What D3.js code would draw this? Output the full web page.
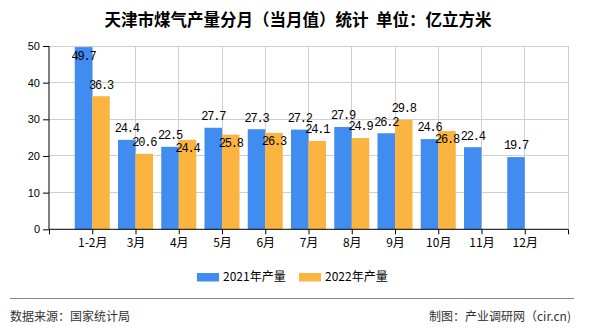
<!DOCTYPE html>
<html><head><meta charset="utf-8">
<script src="https://cdn.jsdelivr.net/npm/d3@7"></script>
<style>
html,body{margin:0;padding:0;background:#fff;}
svg{display:block;}
</style></head>
<body>
<svg id="chart" width="590" height="330"></svg>
<script>
const categories = ["1-2月","3月","4月","5月","6月","7月","8月","9月","10月","11月","12月"];
const values2021 = [49.7,24.4,22.5,27.7,27.3,27.2,27.9,26.2,24.6,22.4,19.7];
const values2022 = [36.3,20.6,24.4,25.8,26.3,24.1,24.9,29.8,26.8,null,null];
const seriesNames = ["2021年产量","2022年产量"];
const yTicks = [0,10,20,30,40,50];
const titleText = "天津市煤气产量分月（当月值）统计  单位：亿立方米";
const sourceText = "数据来源：国家统计局";
const creditText = "制图：产业调研网（cir.cn)";

(function(){
const colors = ["#418CF0","#FCB441"];
const svg = d3.select("#chart");
const pL = 49, pR = 568, pT = 46, pB = 229.3;
const cjk = "'Noto Sans CJK SC','Liberation Sans',sans-serif";
const sans = "'Liberation Sans',Arial,sans-serif";

const x = d3.scaleLinear().domain([0, categories.length + 1]).range([pL, pR]);
const y = d3.scaleLinear().domain([0, 50]).range([pB, pT]);
const bw = 17.5;

// title
svg.append("text").attr("x", 298).attr("y", 26).attr("text-anchor","middle")
  .style("font-family", cjk).style("font-size","16.5px").style("font-weight","bold")
  .style("white-space","pre").attr("fill","#000").text(titleText);

// grid
const g = svg.append("g");
g.selectAll(".hg").data(yTicks.filter(d=>d>0)).enter().append("line")
  .attr("x1", pL).attr("x2", pR).attr("y1", d=>y(d)).attr("y2", d=>y(d))
  .attr("stroke","#cfcfcf").attr("stroke-width",1).attr("shape-rendering","crispEdges");
const vt = d3.range(1, categories.length + 2);
g.selectAll(".vg").data(vt).enter().append("line")
  .attr("x1", d=>x(d)).attr("x2", d=>x(d)).attr("y1", pT).attr("y2", pB)
  .attr("stroke","#cfcfcf").attr("stroke-width",1).attr("shape-rendering","crispEdges");

// bars
const bars = [];
categories.forEach((c,i)=>{
  if (values2021[i] != null) bars.push({s:0,i,v:values2021[i]});
  if (values2022[i] != null) bars.push({s:1,i,v:values2022[i]});
});
svg.append("g").selectAll("rect").data(bars).enter().append("rect")
  .attr("x", d => d.s===0 ? x(d.i+1)-bw : x(d.i+1))
  .attr("y", d => y(d.v)).attr("width", bw).attr("height", d => y(0)-y(d.v))
  .attr("fill", d => colors[d.s]);

// axes
const yAxis = d3.axisLeft(y).tickValues(yTicks).tickSize(6).tickPadding(3);
const ya = svg.append("g").attr("transform",`translate(${pL},0)`).call(yAxis);
ya.select(".domain").attr("stroke","#000").attr("d", `M0,${pT}V${pB}`);
ya.selectAll(".tick line").attr("stroke","#000");
ya.selectAll("text").style("font-family",sans).style("font-size","11px").attr("fill","#000");

const xAxis = d3.axisBottom(x).tickValues(d3.range(0, categories.length+2))
  .tickSize(5).tickPadding(4)
  .tickFormat(d => (d>=1 && d<=categories.length) ? categories[d-1] : "");
const xa = svg.append("g").attr("transform",`translate(0,${pB})`).call(xAxis);
xa.select(".domain").attr("stroke","#000").attr("d", `M${pL},0H${pR}`);
xa.selectAll(".tick line").attr("stroke","#000");
xa.selectAll("text").style("font-family",cjk).style("font-size","12px").attr("fill","#000");

// labels
const labelPos = {};
bars.filter(d=>d.s===0).forEach(d=>{
  let ly = y(d.v) - 12;
  if (ly - 5 < pT) ly = y(d.v) + 8.5;
  labelPos[d.i] = ly;
  d.ly = ly;
});
bars.filter(d=>d.s===1).forEach(d=>{
  let ly = y(d.v) - 12;
  if (labelPos[d.i] != null && Math.abs(ly - labelPos[d.i]) < 10) ly = y(d.v) + 8;
  d.ly = ly;
});
svg.append("g").selectAll("text").data(bars).enter().append("text")
  .attr("x", d => d.s===0 ? x(d.i+1)-bw/2 : x(d.i+1)+bw/2)
  .attr("y", d => d.ly).attr("dy","0.36em").attr("text-anchor","middle")
  .style("font-family","'Liberation Mono','DejaVu Sans Mono',monospace")
  .style("font-size","12px").style("letter-spacing","-1.2px")
  .attr("fill","#000").text(d => d.v.toFixed(1));

// legend
const lg = svg.append("g");
const lx = [197, 299];
seriesNames.forEach((n,k)=>{
  lg.append("rect").attr("x", lx[k]).attr("y", 273).attr("width", 22).attr("height", 8.5).attr("fill", colors[k]);
  lg.append("text").attr("x", lx[k]+26).attr("y", 277).attr("dy","0.36em")
    .style("font-family",cjk).style("font-size","12px").attr("fill","#000").text(n);
});

// footer
svg.append("line").attr("x1",10).attr("x2",574).attr("y1",298.5).attr("y2",298.5)
  .attr("stroke","#888").attr("stroke-width",1);
svg.append("text").attr("x",10).attr("y",317).attr("dy","0.36em")
  .style("font-family",cjk).style("font-size","12px").attr("fill","#333").text(sourceText);
svg.append("text").attr("x",571).attr("y",317).attr("dy","0.36em").attr("text-anchor","end")
  .style("font-family",cjk).style("font-size","12px").attr("fill","#333").text(creditText);
})();
</script>
</body></html>
